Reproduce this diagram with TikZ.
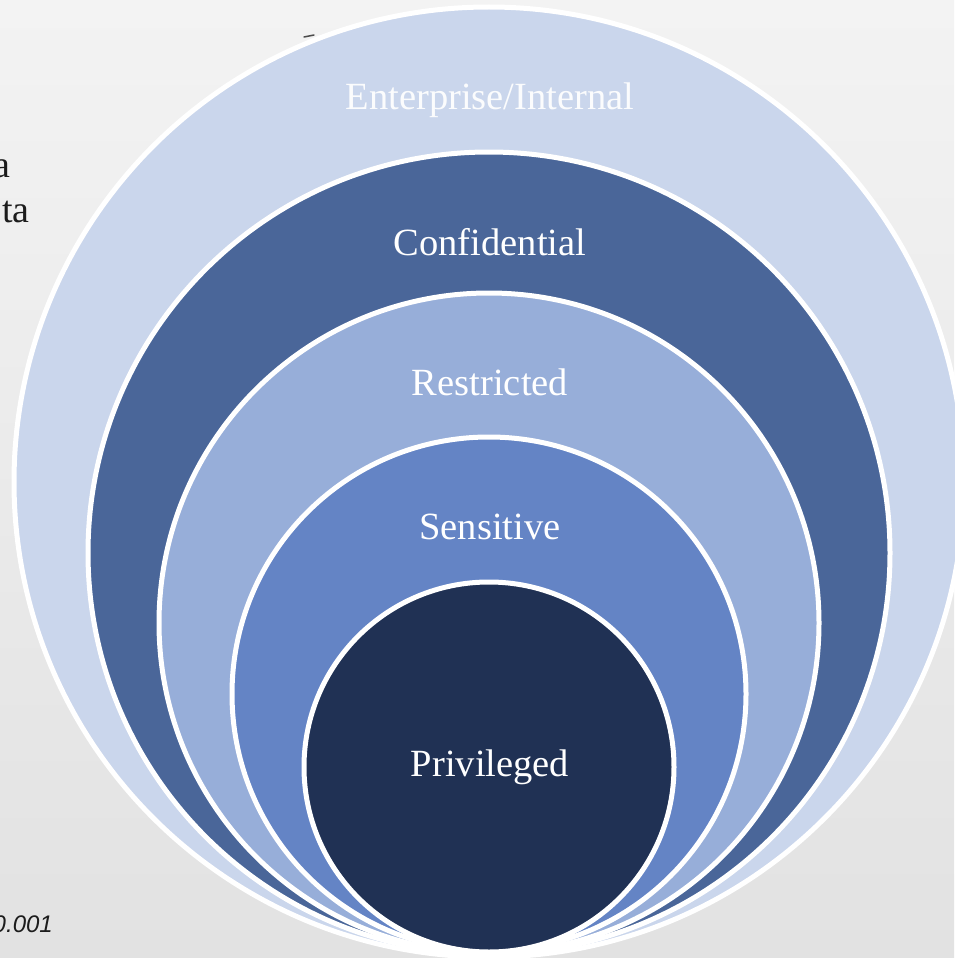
\documentclass[tikz,border=0pt]{standalone}
\usepackage{fontspec}
\setmainfont{Liberation Serif}
\newfontfamily\itsans{Liberation Sans}
\definecolor{bgtop}{HTML}{F3F3F3}
\definecolor{bgbot}{HTML}{E2E2E2}
\definecolor{ringA}{HTML}{CAD6EC}
\definecolor{ringB}{HTML}{4A6699}
\definecolor{ringC}{HTML}{97AED9}
\definecolor{ringD}{HTML}{6484C5}
\definecolor{ringE}{HTML}{203154}
\definecolor{fragtext}{HTML}{1C1C1C}
\tikzset{
  ring/.style={draw=white, line width=5pt},
  lbl/.style={text=white, font=\fontsize{38.5}{46}\selectfont, inner sep=0pt},
  frag/.style={text=fragtext, font=\fontsize{38}{46}\selectfont, inner sep=0pt, anchor=base east},
}
\begin{document}
\begin{tikzpicture}[x=1pt,y=-1pt]
\useasboundingbox (0,0) rectangle (954,958);
\shade[top color=bgtop, bottom color=bgbot] (0,0) rectangle (954,958);
% fragments at left edge
\node[frag] (fa) at (11,177) {a};
\node[frag] (fb) at (30,222) {ta};
\node[text=fragtext, font=\itsans\itshape\fontsize{24}{28}\selectfont, inner sep=0pt, anchor=base east] (fc) at (53,932) {0.001};
\draw[line width=1.5pt, color=black!70, line cap=round] (304,37) -- (314,35);
% nested circles
\draw[ring, fill=ringA] (489,482) circle[radius=475pt];
\draw[ring, fill=ringB] (489,553) circle[radius=401pt];
\draw[ring, fill=ringC] (489,623) circle[radius=330pt];
\draw[ring, fill=ringD] (489,694) circle[radius=257pt];
\draw[ring, fill=ringE] (489,767) circle[radius=185pt];
% labels
\node[lbl, text=white!92!ringA] (l1) at (490,100) {Enterprise/Internal};
\node[lbl] (l2) at (490,242) {Confidential};
\node[lbl] (l3) at (490,382) {Restricted};
\node[lbl] (l4) at (490,527) {Sensitive};
\node[lbl] (l5) at (490,767) {Privileged};
\end{tikzpicture}
\end{document}
